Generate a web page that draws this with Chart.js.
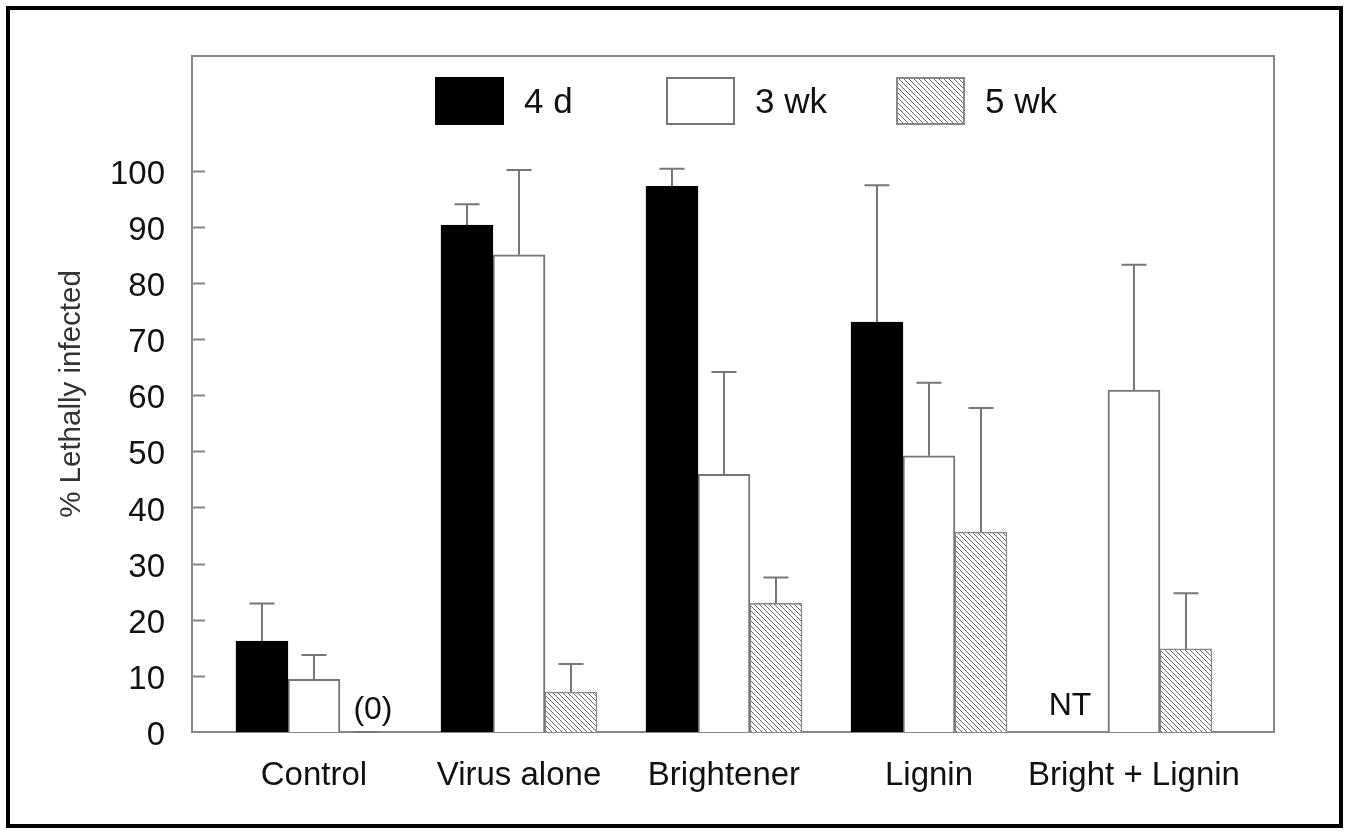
<!DOCTYPE html>
<html>
<head>
<meta charset="utf-8">
<title>% Lethally infected</title>
<script src="https://cdn.jsdelivr.net/npm/chart.js@4"></script>
<style>
  html, body { margin: 0; padding: 0; background: #fff; overflow: hidden; }
  #wrap { position: relative; width: 1349px; height: 832px; }
</style>
</head>
<body>
<div id="wrap"><canvas id="chart"></canvas></div>
<script>
const categories = ['Control', 'Virus alone', 'Brightener', 'Lignin', 'Bright + Lignin'];
const seriesNames = ['4 d', '3 wk', '5 wk'];

// bar heights (NT = not tested -> null)
const val4d = [16.2, 90.3, 97.2, 73.0, null];
const val3wk = [9.4, 85.0, 45.9, 49.2, 60.9];
const val5wk = [0, 7.1, 22.9, 35.6, 14.8];

// upward error bars (length above the bar)
const err4d = [6.7, 3.7, 3.1, 24.4, null];
const err3wk = [4.3, 15.1, 18.2, 13.0, 22.3];
const err5wk = [0, 5.0, 4.6, 22.1, 9.9];

const yTicks = [0, 10, 20, 30, 40, 50, 60, 70, 80, 90, 100];

const FONT = 'Liberation Sans, Arial, Helvetica, sans-serif';
const AXIS = '#888';

function hatch() {
  const c = document.createElement('canvas');
  c.width = 5; c.height = 5;
  const g = c.getContext('2d');
  g.fillStyle = '#fff';
  g.fillRect(0, 0, 5, 5);
  g.strokeStyle = '#6a6a6a';
  g.lineWidth = 1;
  g.beginPath();
  g.moveTo(-1, -1); g.lineTo(6, 6);
  g.moveTo(-1, 4); g.lineTo(1, 6);
  g.moveTo(4, -1); g.lineTo(6, 1);
  g.stroke();
  return g.createPattern(c, 'repeat');
}

const toPoints = arr => arr.map((v, i) => ({ x: i, y: v }));
const errors = [err4d, err3wk, err5wk];

const framePlugin = {
  id: 'frame',
  beforeDraw(chart) {
    const ctx = chart.ctx;
    ctx.save();
    ctx.fillStyle = '#fff';
    ctx.fillRect(0, 0, chart.width, chart.height);
    ctx.strokeStyle = '#000';
    ctx.lineWidth = 4;
    ctx.strokeRect(8, 8, chart.width - 16, chart.height - 14);
    ctx.restore();
  },
  beforeDatasetsDraw(chart) {
    const { ctx, chartArea: a, scales: { y } } = chart;
    ctx.save();
    ctx.strokeStyle = AXIS;
    ctx.lineWidth = 2;
    ctx.strokeRect(a.left, a.top, a.right - a.left, a.bottom - a.top);
    ctx.beginPath();
    yTicks.forEach(t => {
      if (t === 0) return;
      const py = Math.round(y.getPixelForValue(t)) + 0.5;
      ctx.moveTo(a.left, py);
      ctx.lineTo(a.left + 13, py);
    });
    ctx.stroke();
    ctx.restore();
  },
  afterDatasetsDraw(chart) {
    const { ctx, chartArea: a, scales: { x, y } } = chart;
    ctx.save();
    ctx.strokeStyle = '#777';
    ctx.lineWidth = 2;
    chart.data.datasets.forEach((ds, di) => {
      const meta = chart.getDatasetMeta(di);
      ds.data.forEach((p, i) => {
        const e = errors[di][i];
        if (p.y === null || e === null) return;
        const bx = meta.data[i].x;
        const y0 = y.getPixelForValue(p.y);
        const y1 = y.getPixelForValue(p.y + e);
        ctx.beginPath();
        if (e > 0) {
          ctx.moveTo(bx, y0);
          ctx.lineTo(bx, y1);
        }
        ctx.moveTo(bx - 12.5, y1);
        ctx.lineTo(bx + 12.5, y1);
        ctx.stroke();
      });
    });

    // annotations: (0) and NT
    ctx.fillStyle = '#111';
    ctx.font = '32px ' + FONT;
    ctx.textAlign = 'center';
    ctx.textBaseline = 'middle';
    const m5 = chart.getDatasetMeta(2).data[0];
    ctx.fillText('(0)', m5.x + 7, y.getPixelForValue(0) - 22);
    const ntX = x.getPixelForValue(4) - 52 - 12;
    ctx.fillText('NT', ntX, y.getPixelForValue(0) - 26);

    // legend inside the plot frame
    const lx = [a.left + 244, a.left + 475, a.left + 705];
    const ly = a.top + 22;
    ctx.font = '35px ' + FONT;
    ctx.textAlign = 'left';
    chart.data.datasets.forEach((ds, di) => {
      ctx.fillStyle = ds.backgroundColor;
      ctx.fillRect(lx[di], ly, 67, 46);
      ctx.strokeStyle = ds.borderColor;
      ctx.lineWidth = 2;
      ctx.strokeRect(lx[di], ly, 67, 46);
      ctx.fillStyle = '#111';
      ctx.fillText(ds.label, lx[di] + 88, ly + 25);
    });
    ctx.restore();
  }
};

const ctx = document.getElementById('chart');
new Chart(ctx, {
  type: 'bar',
  data: {
    datasets: [
      { label: seriesNames[0], data: toPoints(val4d), backgroundColor: '#000', borderColor: '#000', borderWidth: 1 },
      { label: seriesNames[1], data: toPoints(val3wk), backgroundColor: '#fff', borderColor: '#777', borderWidth: 2 },
      { label: seriesNames[2], data: toPoints(val5wk), backgroundColor: hatch(), borderColor: '#888', borderWidth: 1.5 },
    ],
  },
  options: {
    responsive: true,
    maintainAspectRatio: false,
    animation: false,
    barThickness: 52,
    layout: { padding: { top: 56, right: 75, left: 0, bottom: 0 } },
    plugins: { legend: { display: false }, tooltip: { enabled: false } },
    scales: {
      x: {
        type: 'linear',
        min: -0.595,
        max: 4.683,
        offset: false,
        grid: { display: false, drawTicks: false },
        border: { display: false },
        afterFit: s => { s.height = 100; },
        ticks: {
          stepSize: 1,
          includeBounds: false,
          autoSkip: false,
          maxRotation: 0,
          padding: 24,
          color: '#111',
          font: { family: FONT, size: 33 },
          callback: v => Number.isInteger(v) ? categories[v] : '',
        },
      },
      y: {
        min: 0,
        max: 120.4,
        grid: { display: false, drawTicks: false },
        border: { display: false },
        afterFit: s => { s.width = 192; },
        title: {
          display: true,
          text: '% Lethally infected',
          color: '#333',
          font: { family: FONT, size: 29.5 },
          padding: { top: 54 },
        },
        ticks: {
          stepSize: 10,
          includeBounds: false,
          padding: 27,
          labelOffset: 4,
          color: '#111',
          font: { family: FONT, size: 33 },
          callback: v => yTicks.includes(v) ? v : '',
        },
      },
    },
  },
  plugins: [framePlugin],
});
</script>
</body>
</html>
